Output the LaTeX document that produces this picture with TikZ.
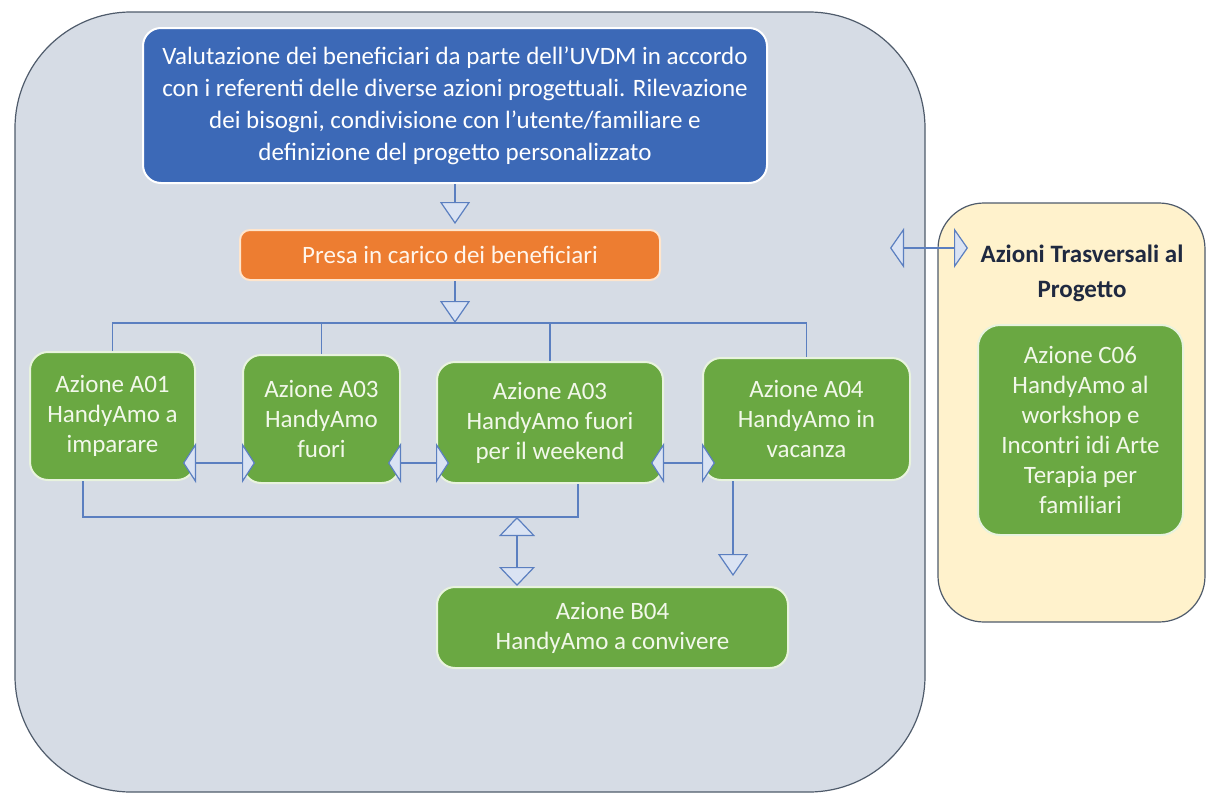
\documentclass[tikz,border=0pt]{standalone}
\usepackage{fontspec}
\setmainfont{Carlito}
\usetikzlibrary{arrows.meta}
\definecolor{panelfill}{HTML}{D6DCE5}
\definecolor{panelline}{HTML}{4F5B6B}
\definecolor{bluefill}{HTML}{3C69B7}
\definecolor{orangefill}{HTML}{ED7D31}
\definecolor{greenfill}{HTML}{6AA842}
\definecolor{greenline}{HTML}{E8F3DE}
\definecolor{greentext}{HTML}{F2F8EA}
\definecolor{creamfill}{HTML}{FFF2CC}
\definecolor{wireblue}{HTML}{5B7FC0}
\definecolor{tipfill}{HTML}{DAE3F3}
\definecolor{navy}{HTML}{1F2940}
\begin{document}
\begin{tikzpicture}[x=0.5pt,y=-0.5pt,
  actbox/.style={rounded corners=9pt, fill=greenfill, draw=greenline, line width=1pt,
    text=greentext, align=center, font=\fontsize{12.5}{15}\selectfont},
  wire/.style={draw=wireblue, line width=0.6pt},
  downarrow/.style={wire, -{Triangle[width=15pt,length=11pt,fill=tipfill]}},
  pairarrow/.style={wire, {Triangle[width=20pt,length=6.5pt,fill=tipfill]}-{Triangle[width=20pt,length=6.5pt,fill=tipfill]},
    shorten <=-6.5pt, shorten >=-6.5pt}]
  \useasboundingbox (0,0) rectangle (1207,793);
  % panels
  \node[fill=panelfill, draw=panelline, line width=0.6pt, rounded corners=58pt,
    minimum width=455pt, minimum height=390pt] (outer) at (470,402) {};
  \node[fill=creamfill, draw=panelline, line width=0.6pt, rounded corners=23pt,
    minimum width=133.5pt, minimum height=209.5pt] (side) at (1071.5,412.5) {};
  \node[text=navy, align=center, font=\bfseries\fontsize{12.5}{17.5}\selectfont] (trasv) at (1082,273)
    {Azioni Trasversali al\\Progetto};
  % boxes
  \node[fill=bluefill, draw=white, line width=1pt, rounded corners=9pt, text=white, align=center,
    minimum width=312pt, minimum height=77.5pt, font=\fontsize{12.5}{16}\selectfont] (valut) at (455,105.5)
    {Valutazione dei beneficiari da parte dell’UVDM in accordo\\con i referenti delle diverse azioni progettuali. Rilevazione\\dei bisogni, condivisione con l’utente/familiare e\\definizione del progetto personalizzato};
  \node[fill=orangefill, draw=orange!20, line width=1pt, rounded corners=5pt, text=orange!8,
    minimum width=210pt, minimum height=25pt, font=\fontsize{12.5}{15}\selectfont] (presa) at (450,255)
    {Presa in carico dei beneficiari};
  \node[actbox, minimum width=82.5pt, minimum height=64pt] (a01) at (112.5,416) {Azione A01\\HandyAmo a\\imparare};
  \node[actbox, minimum width=78.5pt, minimum height=64pt] (a03) at (321.5,419) {Azione A03\\HandyAmo\\fuori};
  \node[actbox, minimum width=113pt, minimum height=60.5pt] (a03w) at (550,422.5) {Azione A03\\HandyAmo fuori\\per il weekend};
  \node[actbox, minimum width=103.5pt, minimum height=61pt] (a04) at (806.5,419) {Azione A04\\HandyAmo in\\vacanza};
  \node[actbox, minimum width=175.5pt, minimum height=40.5pt] (b04) at (612.5,627.5) {Azione B04\\HandyAmo a convivere};
  \node[actbox, rounded corners=11pt, minimum width=102.5pt, minimum height=105pt] (c06) at (1080.5,430)
    {Azione C06\\HandyAmo al\\workshop e\\Incontri idi Arte\\Terapia per\\familiari};
  % connectors
  \coordinate (bus) at (455,323);
  \coordinate (lane) at (0,463);
  \coordinate (low) at (517,517);
  \coordinate (gl) at (890,248);
  \coordinate (gr) at (968,248);
  \draw[downarrow, shorten >=2.5pt] (valut.south) -- (valut.south |- presa.north);
  \draw[downarrow] (presa.south -| bus) -- (bus);
  \draw[wire] (a01.north) |- (bus) -| (a04.north);
  \draw[wire] (a03.north) -- (a03.north |- bus);
  \draw[wire] (a03w.north) -- (a03w.north |- bus);
  \draw[pairarrow] (a01.east |- lane) -- (a03.west |- lane);
  \draw[pairarrow] (a03.east |- lane) -- (a03w.west |- lane);
  \draw[pairarrow] (a03w.east |- lane) -- (a04.west |- lane);
  \draw[wire] ([xshift=-14.75pt]a01.south) |- (low) -| ([xshift=14pt]a03w.south);
  \draw[wire, {Triangle[width=18pt,length=9.5pt,fill=tipfill]}-{Triangle[width=18pt,length=9.5pt,fill=tipfill]}]
    (low) -- (low |- b04.north);
  \draw[downarrow, shorten >=5pt] ([xshift=-36.75pt]a04.south) -- ([xshift=-36.75pt]a04.south |- b04.north);
  \draw[wire, {Triangle[width=20pt,length=7pt,fill=tipfill]}-{Triangle[width=20pt,length=7pt,fill=tipfill]}]
    (gl) -- (gr);
\end{tikzpicture}
\end{document}
